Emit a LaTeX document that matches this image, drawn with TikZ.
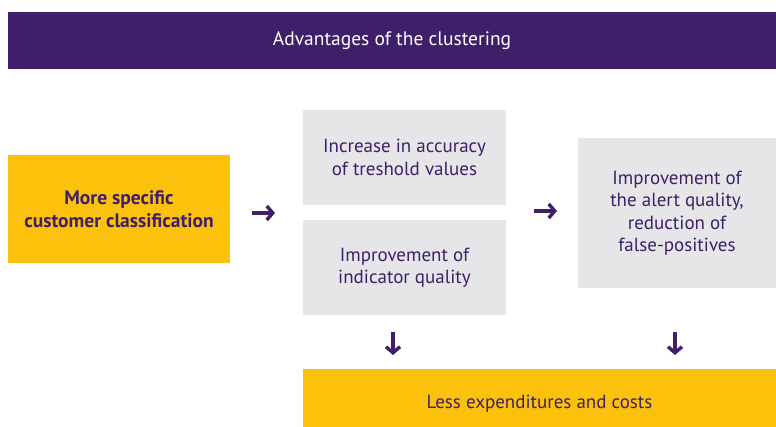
\documentclass[tikz,border=0pt]{standalone}
\usepackage{fontspec}
\setmainfont{PT Sans}
\usetikzlibrary{positioning, arrows.meta}

\definecolor{clpurple}{HTML}{3F1F69}
\definecolor{clyellow}{HTML}{FBC10B}
\definecolor{clgrey}{HTML}{E6E6E8}

\begin{document}
\begin{tikzpicture}[
    x=1pt, y=-1pt,
    header/.style={fill=clpurple, text=white, inner sep=0pt, font=\fontsize{19.5}{23}\selectfont},
    yellowbox/.style={fill=clyellow, text=clpurple, inner sep=0pt, align=center, font=\fontsize{19}{23}\selectfont},
    greybox/.style={fill=clgrey, text=clpurple, inner sep=0pt, align=center, font=\fontsize{19}{22.5}\selectfont},
    arr/.style={-{Straight Barb[length=6pt, width=14pt]}, line width=3.4pt, draw=clpurple}
]
\useasboundingbox (0,0) rectangle (776,427);

\node[header, minimum width=768, minimum height=57] (head) at (392,40.5) {Advantages of the clustering};

\node[yellowbox, minimum width=222, minimum height=108, font=\fontsize{19.5}{23}\selectfont\bfseries] (spec) at (119,209) {More specific\\customer classification};
\node[greybox, minimum width=203, minimum height=95] (acc) at (404.5,157.5) {Increase in accuracy\\of treshold values};
\node[greybox, minimum width=203, minimum height=95] (ind) at (404.5,267.5) {Improvement of\\indicator quality};
\node[greybox, minimum width=198, minimum height=150] (alert) at (677,213) {Improvement of\\the alert quality,\\reduction of\\false-positives};
\node[yellowbox, minimum width=473, minimum height=58, text height=26pt, text depth=5pt] (cost) at (539.5,398) {Less expenditures and costs};

% arrows between the boxes
\coordinate (r1) at (252,213);
\coordinate (r2) at (275,213);
\coordinate (r3) at (534,211);
\coordinate (r4) at (557,211);
\coordinate (d1) at (393,332);
\coordinate (d2) at (393,355);
\coordinate (d3) at (675,332);
\coordinate (d4) at (675,355);
\draw[arr] (r1) -- (r2);
\draw[arr] (r3) -- (r4);
\draw[arr] (d1) -- (d2);
\draw[arr] (d3) -- (d4);
\end{tikzpicture}
\end{document}
